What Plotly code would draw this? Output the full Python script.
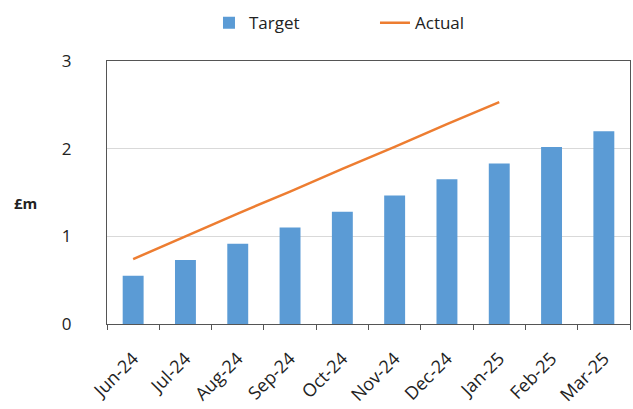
import plotly.graph_objects as go

months = ["Jun-24", "Jul-24", "Aug-24", "Sep-24", "Oct-24", "Nov-24",
          "Dec-24", "Jan-25", "Feb-25", "Mar-25"]
target = [0.55, 0.73, 0.915, 1.10, 1.28, 1.465, 1.65, 1.83, 2.02, 2.20]
actual_months = ["Jun-24", "Jul-24", "Aug-24", "Sep-24", "Oct-24", "Nov-24",
                 "Dec-24", "Jan-25"]
actual = [0.74, 1.00, 1.26, 1.51, 1.77, 2.02, 2.28, 2.53]
y_ticks = [0, 1, 2, 3]

FONT = "Open Sans, Liberation Sans, sans-serif"

fig = go.Figure()
fig.add_trace(go.Bar(x=months, y=target, name="Target",
                     marker=dict(color="#5B9BD5", line=dict(width=0)),
                     width=0.4))
fig.add_trace(go.Scatter(x=actual_months, y=actual, name="Actual",
                         mode="lines", line=dict(color="#ED7D31", width=2.5)))

fig.update_layout(
    width=633, height=409,
    margin=dict(l=107, r=3, t=61, b=85, autoexpand=False),
    paper_bgcolor="white", plot_bgcolor="white",
    font=dict(family=FONT, size=14, color="#222"),
    showlegend=True,
    legend=dict(orientation="h", x=0.195, xanchor="left", y=1.144,
                yanchor="middle", font=dict(size=17, color="#222"),
                itemwidth=30, entrywidth=121, entrywidthmode="pixels",
                tracegroupgap=0),
    bargap=0.6,
)
fig.update_xaxes(
    type="category", categoryorder="array", categoryarray=months,
    tickangle=-45, tickson="boundaries", ticks="outside", ticklen=5,
    tickcolor="#555", showline=True, linecolor="#555", linewidth=1.2,
    mirror=True, showgrid=False, tickfont=dict(size=18, color="#222"),
    ticklabelstandoff=16, automargin=False,
)
fig.update_yaxes(
    range=[0, 3], tickvals=y_ticks, showgrid=True, gridcolor="#D9D9D9",
    gridwidth=1, showline=True, linecolor="#555", linewidth=1.2, mirror=True,
    ticks="", ticklabelstandoff=31, tickfont=dict(size=17, color="#222"),
    zeroline=False, automargin=False,
)
fig.add_annotation(text="<b>£m</b>", xref="paper", yref="paper",
                   x=-0.155, y=0.46, xanchor="center", yanchor="middle",
                   showarrow=False, font=dict(size=15, color="#222"))

fig.write_html("out.html",
               config={"displayModeBar": False},
               post_script="document.body.style.margin='0';"
                           "document.body.style.overflow='hidden';")
